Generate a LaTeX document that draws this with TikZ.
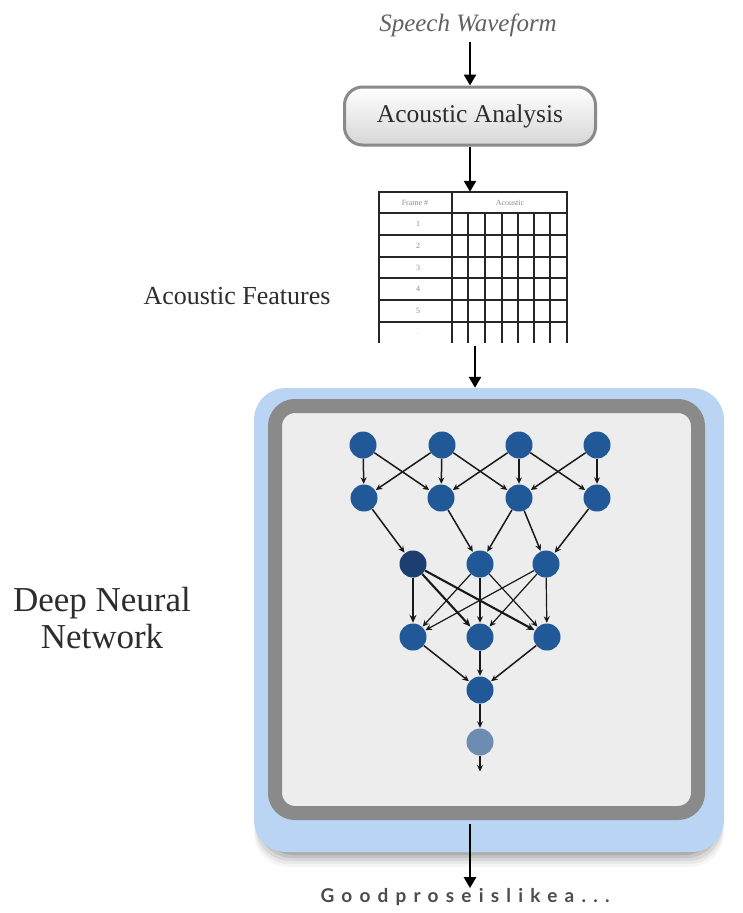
\documentclass[tikz,border=0pt]{standalone}
\usepackage{fontspec}
\setmainfont{Liberation Serif}
\newfontfamily\spacedsans[LetterSpace=38]{Lato Bold}
\usetikzlibrary{arrows.meta}

\definecolor{inkgray}{RGB}{45,45,45}
\definecolor{framegray}{RGB}{138,138,138}
\definecolor{panelgray}{RGB}{237,237,237}
\definecolor{dnnblue}{RGB}{186,212,244}
\definecolor{neuronblue}{RGB}{32,88,152}
\definecolor{neurondark}{RGB}{28,62,112}
\definecolor{neuronpale}{RGB}{110,140,178}
\definecolor{edgeink}{RGB}{25,25,25}

\tikzset{
  flow/.style={line width=2.6pt, draw=black, -{Triangle[length=11pt,width=12pt]}},
  anabox/.style={draw=framegray, line width=3pt, rounded corners=18pt,
    top color=white, bottom color=black!16, inner sep=0pt,
    minimum width=251pt, minimum height=58pt, text=inkgray,
    font=\fontsize{25.5}{30}\selectfont},
  gridline/.style={line width=1.4pt, draw=black!85},
  tinytext/.style={text=black!45, font=\fontsize{8}{9}\selectfont, inner sep=0pt},
  label/.style={text=inkgray, inner sep=0pt},
  neuron/.style={circle, fill=neuronblue, minimum size=27pt, inner sep=0pt},
  edge/.style={line width=1.5pt, draw=edgeink, -{Stealth[length=6.5pt,width=6pt]}, shorten >=0.5pt},
  heavyedge/.style={edge, line width=2.1pt, -{Stealth[length=8pt,width=7pt]}},
}

\begin{document}
\begin{tikzpicture}[x=1pt,y=-1pt]
\useasboundingbox (0,0) rectangle (743,913);
\fill[white] (0,0) rectangle (743,913);

% ---- input side ----
\node[label, text=black!62, font=\fontsize{25}{30}\selectfont\itshape] (speech) at (468,25) {Speech Waveform};
\node[anabox] (ana) at (470,116) {Acoustic Analysis};
\draw[flow] ([yshift=-5pt]speech.south -| ana.north) -- (ana.north);

% ---- feature table ----
\node[inner sep=0pt, minimum width=188pt, minimum height=151pt] (tbl) at (473,267.5) {};
\draw[gridline] (379,343) -- (379,192) -- (567,192) -- (567,343);
\draw[gridline] (452,192) -- (452,343);
\foreach \y in {213,235,257,278,300,322}
  \draw[gridline] (379,\y) -- (567,\y);
\foreach \x in {468,485,502,518,534,550}
  \draw[gridline] (\x,213) -- (\x,343);
\node[tinytext] at (415,203) {Frame \#};
\node[tinytext] at (510,203) {Acoustic};
\foreach \n/\y in {1/224,2/246,3/268,4/289,5/311}
  \node[tinytext] at (418,\y) {\n};
\node[tinytext, text=black!25] at (418,334) {.};
\draw[flow] (ana.south) -- (ana.south |- tbl.north);

\node[label, font=\fontsize{26}{30}\selectfont] (featlabel) at (237,296) {Acoustic Features};

% ---- network panel ----
% soft shadow under the blue panel
\foreach \d/\w/\o in {15/0/0.035,12/1/0.05,9/2/0.07,6/4/0.09,3/6/0.12}
  \fill[black, opacity=\o, rounded corners=34pt] (254+\w,780) rectangle (724-\w,852+\d);
\node[fill=dnnblue, rounded corners=32pt, inner sep=0pt,
      minimum width=470pt, minimum height=464pt] (dnn) at (489,620) {};
\node[draw=framegray, line width=14pt, fill=panelgray, rounded corners=20pt, inner sep=0pt,
      minimum width=423pt, minimum height=407pt] (frame) at (486.5,609.5) {};
\coordinate (t1) at (475,346);
\draw[flow] (t1) -- (t1 |- dnn.north);

\node[label, align=center, font=\fontsize{35}{37}\selectfont] (dnnlabel) at (102,618) {Deep Neural\\Network};

% layers
\foreach \i/\x in {1/363,2/442,3/519,4/597}
  \node[neuron] (a\i) at (\x,445) {};
\foreach \i/\x in {1/364,2/441,3/519,4/597}
  \node[neuron] (b\i) at (\x,498) {};
\node[neuron, fill=neurondark] (c1) at (413,564) {};
\node[neuron] (c2) at (480,564) {};
\node[neuron] (c3) at (546,564) {};
\foreach \i/\x in {1/413,2/480,3/547}
  \node[neuron] (d\i) at (\x,637) {};
\node[neuron] (e1) at (480,690) {};
\node[neuron, fill=neuronpale] (f1) at (480,742) {};
\coordinate (out) at (480,772);

% connections
\foreach \i/\j in {1/1,1/2,2/1,2/2,2/3,3/2,3/3,3/4,4/3,4/4}
  \draw[edge] (a\i) -- (b\j);
\foreach \i/\j in {1/1,2/2,3/2,3/3,4/3}
  \draw[edge] (b\i) -- (c\j);
\foreach \j in {1,2,3}
  \draw[heavyedge] (c1) -- (d\j);
\foreach \i in {2,3}
  \foreach \j in {1,2,3}
    \draw[edge, line width=1.2pt] (c\i) -- (d\j);
\foreach \i in {1,2,3}
  \draw[edge] (d\i) -- (e1);
\draw[edge] (e1) -- (f1);
\draw[edge] (f1) -- (out);

% ---- output ----
\node[label, text=black!70, font=\spacedsans\fontsize{19}{22}\selectfont] (result) at (465,897) {Goodproseislikea...};
\coordinate (o0) at (470,824);
\draw[flow] (o0) -- (o0 |- result.north);
\end{tikzpicture}
\end{document}
